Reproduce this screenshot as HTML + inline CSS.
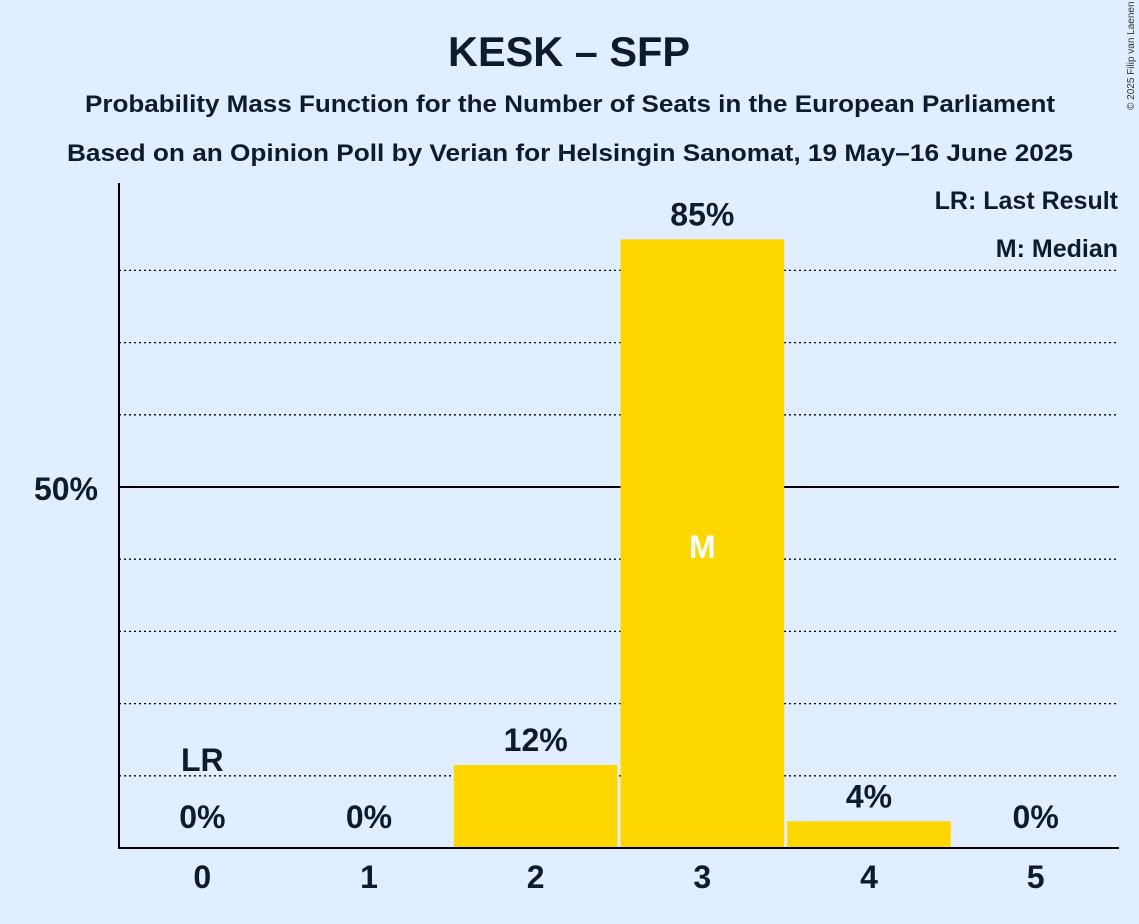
<!DOCTYPE html>
<html><head><meta charset="utf-8"><style>
html,body{margin:0;padding:0;background:#e0eeff;}
svg{display:block;font-family:"Liberation Sans",sans-serif;font-weight:bold;}
</style></head><body>
<svg id="chart" width="1139" height="924" viewBox="0 0 1139 924">
<rect width="1139" height="924" fill="#e0eeff"/>
<text x="569" y="66" font-size="42" text-anchor="middle" fill="#0d1b2a" textLength="242" lengthAdjust="spacingAndGlyphs">KESK – SFP</text>
<text x="570" y="112" font-size="24" text-anchor="middle" fill="#0d1b2a" textLength="970" lengthAdjust="spacingAndGlyphs">Probability Mass Function for the Number of Seats in the European Parliament</text>
<text x="570" y="161" font-size="24" text-anchor="middle" fill="#0d1b2a" textLength="1006" lengthAdjust="spacingAndGlyphs">Based on an Opinion Poll by Verian for Helsingin Sanomat, 19 May–16 June 2025</text>
<text x="1134" y="110" font-size="10" font-weight="normal" fill="#333" transform="rotate(-90 1134 110)">© 2025 Filip van Laenen</text>
<g id="grid"></g>
<g id="bars"></g>
<line x1="119" y1="183" x2="119" y2="848" stroke="#000" stroke-width="2"/>
<line x1="118" y1="848" x2="1119" y2="848" stroke="#000" stroke-width="2"/>
<text x="98" y="500" font-size="32" text-anchor="end" fill="#0d1b2a">50%</text>
<text x="1118" y="209" font-size="25" text-anchor="end" fill="#0d1b2a">LR: Last Result</text>
<text x="1118" y="257" font-size="25" text-anchor="end" fill="#0d1b2a">M: Median</text>
<g id="labels"></g>
</svg>
<script>
const categories = [0, 1, 2, 3, 4, 5];
const probabilities = [0, 0, 11.5, 84.3, 3.7, 0];
const valueLabels = ["0%", "0%", "12%", "85%", "4%", "0%"];
const lastResult = 0;
const median = 3;
const gridValues = [10, 20, 30, 40, 60, 70, 80];

const NS = "http://www.w3.org/2000/svg";
const x0 = 119, x1 = 1119, yBase = 848, pxPerPct = 7.22;
const band = (x1 - x0) / categories.length;
const xc = i => x0 + band * (i + 0.5);
const y = v => yBase - v * pxPerPct;
function mk(tag, attrs, parent, text) {
  const e = document.createElementNS(NS, tag);
  for (const k in attrs) e.setAttribute(k, attrs[k]);
  if (text !== undefined) e.textContent = text;
  document.getElementById(parent).appendChild(e);
  return e;
}
gridValues.forEach(v => {
  const l = mk("line", {x1: x0, x2: x1, y1: y(v), y2: y(v), stroke: "#000", "stroke-width": 1.3, "stroke-dasharray": "2,3"}, "grid");
  
  
});
const g50 = mk("line", {x1: x0, x2: x1, y1: y(50), y2: y(50), stroke: "#000", "stroke-width": 2}, "grid");


categories.forEach((c, i) => {
  const p = probabilities[i];
  if (p > 0) {
    const r = mk("rect", {x: xc(i) - band / 2 + 1.5, width: band - 3, y: y(p), height: yBase - y(p), fill: "#ffd700"}, "bars");
    
    
  }
  const t = mk("text", {x: xc(i), y: 888, "font-size": 32, "text-anchor": "middle", fill: "#0d1b2a"}, "labels", String(c));
  
  
  const vy = p > 2 ? y(p) - 14 : 828;
  const v = mk("text", {x: xc(i), y: vy, "font-size": 32, "text-anchor": "middle", fill: "#0d1b2a"}, "labels", valueLabels[i]);
  
  
  if (c === lastResult) {
    const lr = mk("text", {x: xc(i), y: 771, "font-size": 32, "text-anchor": "middle", fill: "#0d1b2a"}, "labels", "LR");
    
    
  }
  if (c === median) {
    const m = mk("text", {x: xc(i), y: 558, "font-size": 32, "text-anchor": "middle", fill: "#ffffff"}, "labels", "M");
    
    
  }
});
</script>
</body></html>
